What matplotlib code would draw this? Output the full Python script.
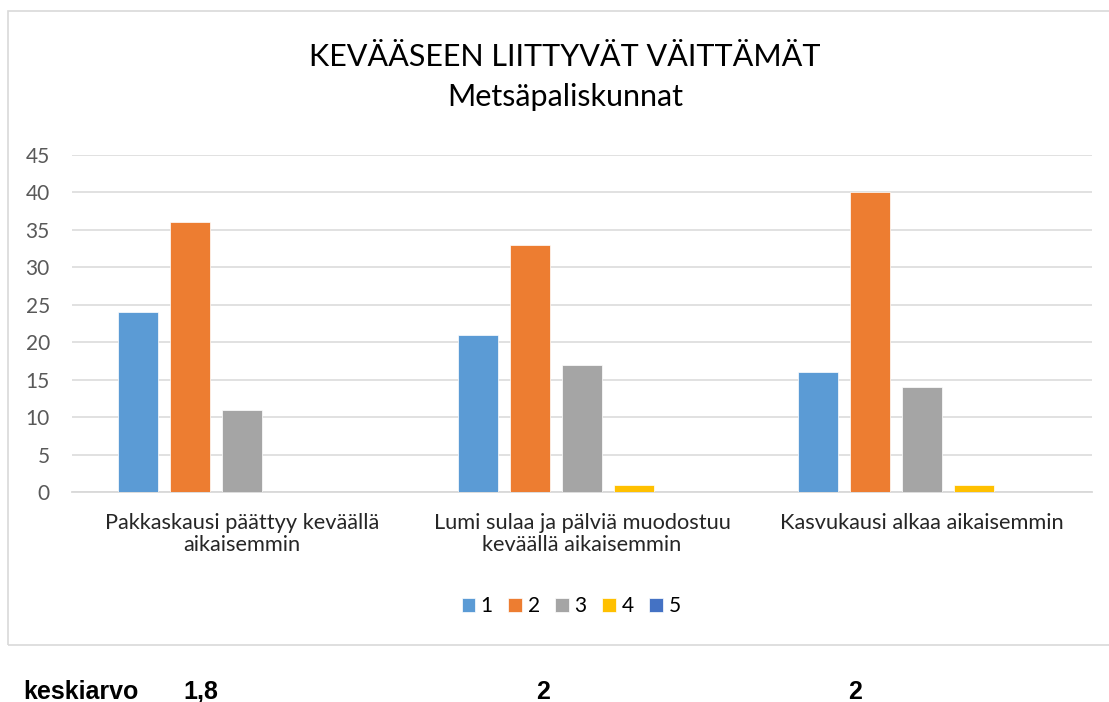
import matplotlib
matplotlib.use("Agg")
import matplotlib.pyplot as plt
import numpy as np
from matplotlib.patches import Rectangle

categories = ["Pakkaskausi päättyy keväällä\naikaisemmin",
              "Lumi sulaa ja pälviä muodostuu\nkeväällä aikaisemmin",
              "Kasvukausi alkaa aikaisemmin"]
series_names = ["1", "2", "3", "4", "5"]
series_values = [
    [24, 21, 16],
    [36, 33, 40],
    [11, 17, 14],
    [0, 1, 1],
    [0, 0, 0],
]
colors = ["#5B9BD5", "#ED7D31", "#A5A5A5", "#FFC000", "#4472C4"]
yticks = [0, 5, 10, 15, 20, 25, 30, 35, 40, 45]
title_line1 = "KEVÄÄSEEN LIITTYVÄT VÄITTÄMÄT"
title_line2 = "Metsäpaliskunnat"
mean_label = "keskiarvo"
mean_values = ["1,8", "2", "2"]

W, H = 1109, 702
fig = plt.figure(figsize=(W / 100, H / 100), dpi=100)
FONT = "Lato"
SMALL = 15

# chart border
fig.patches.append(Rectangle((8 / W, 1 - 645 / H), (1115 - 8) / W, (645 - 11) / H,
                             transform=fig.transFigure, fill=False,
                             edgecolor="#D9D9D9", linewidth=1.2))

ax = fig.add_axes([72 / W, 1 - 492 / H, (1092 - 72) / W, (492 - 155) / H])
x = np.arange(len(categories))
pitch = 52 / 340
width = 40 / 340
bars = []
for i, (name, vals, c) in enumerate(zip(series_names, series_values, colors)):
    b = ax.bar(x + (i - 2) * pitch, vals, width=width, color=c, label=name,
               edgecolor="white", linewidth=0.5, zorder=3)
    bars.append(b)

ax.set_xlim(-0.5, 2.5)
ax.set_ylim(0, 45)
ax.set_yticks(yticks)
ax.set_yticklabels([str(v) for v in yticks], fontfamily=FONT, fontsize=SMALL, color="#595959")
ax.set_xticks(x)
ax.set_xticklabels(categories, fontfamily=FONT, fontsize=15.7, color="#262626", linespacing=1.15)
ax.tick_params(axis="both", length=0)
ax.tick_params(axis="y", pad=16)
ax.tick_params(axis="x", pad=15)
ax.grid(axis="y", color="#D9D9D9", linewidth=1.1, zorder=0)
for s in ["top", "right", "left"]:
    ax.spines[s].set_visible(False)
ax.spines["bottom"].set_color("#D9D9D9")
ax.spines["bottom"].set_linewidth(1.3)
ax.set_axisbelow(True)

fig.text(565 / W, 1 - 57 / H, title_line1, ha="center", va="center",
         fontfamily=FONT, fontsize=22, color="#000000")
fig.text(565 / W, 1 - 97 / H, title_line2, ha="center", va="center",
         fontfamily=FONT, fontsize=22, color="#000000")

fig.legend(handles=bars, labels=series_names, loc="center", ncol=5,
           bbox_to_anchor=(571 / W, 1 - 606 / H), frameon=False,
           prop={"family": FONT, "size": SMALL}, handlelength=0.67, handleheight=0.67,
           handletextpad=0.25, columnspacing=0.75)

fig.text(23 / W, 1 - 699 / H, mean_label, ha="left", va="baseline",
         fontfamily="Liberation Sans", fontweight="bold", fontsize=18)
fig.text(183 / W, 1 - 699 / H, mean_values[0], ha="left", va="baseline",
         fontfamily="Liberation Sans", fontweight="bold", fontsize=18)
fig.text(543 / W, 1 - 699 / H, mean_values[1], ha="center", va="baseline",
         fontfamily="Liberation Sans", fontweight="bold", fontsize=18)
fig.text(855 / W, 1 - 699 / H, mean_values[2], ha="center", va="baseline",
         fontfamily="Liberation Sans", fontweight="bold", fontsize=18)

fig.savefig("out.png", dpi=100)
